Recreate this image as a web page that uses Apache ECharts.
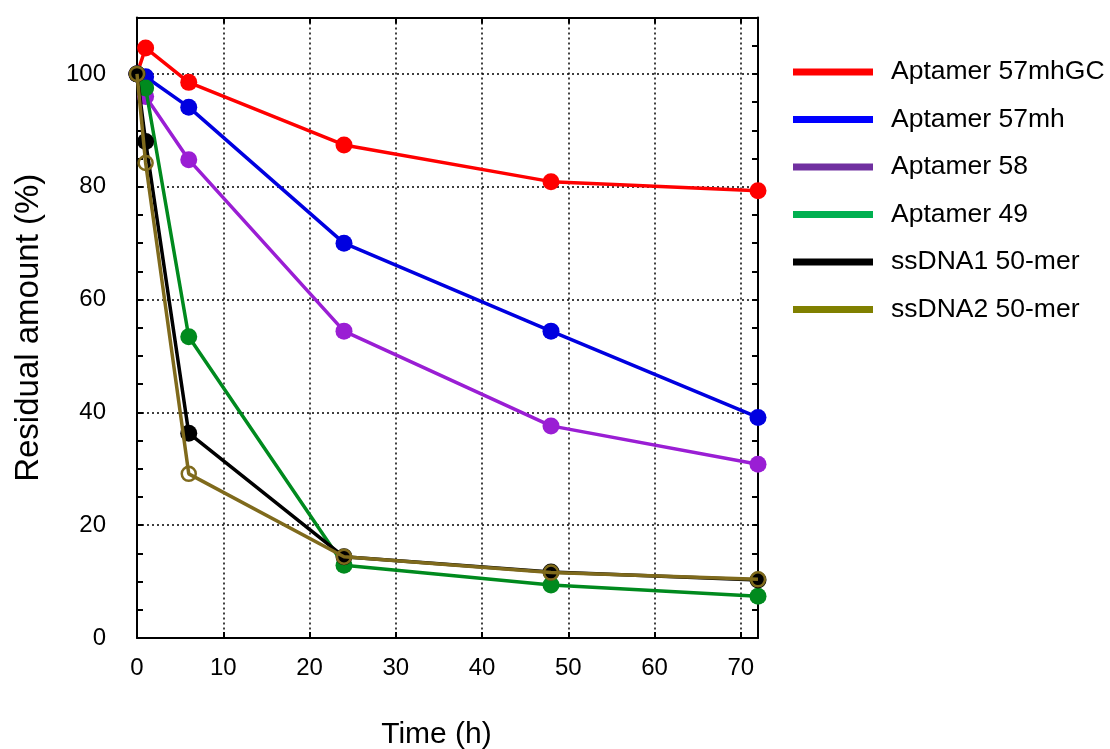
<!DOCTYPE html>
<html><head><meta charset="utf-8">
<script src="https://cdn.jsdelivr.net/npm/echarts@6/dist/echarts.min.js"></script>
<style>html,body{margin:0;padding:0;background:#fff}#c{width:1110px;height:749px}</style>
</head><body><div id="c"></div>
<script>
const times = [0, 1, 6, 24, 48, 72];
const seriesNames = ['Aptamer 57mhGC', 'Aptamer 57mh', 'Aptamer 58', 'Aptamer 49', 'ssDNA1 50-mer', 'ssDNA2 50-mer'];
const apt57mhGC = [100, 104.6, 98.5, 87.4, 80.9, 79.3];
const apt57mh = [100, 99.5, 94.1, 70.0, 54.4, 39.1];
const apt58 = [100, 96.0, 84.8, 54.4, 37.6, 30.8];
const apt49 = [100, 97.5, 53.4, 12.9, 9.4, 7.4];
const ssDNA1 = [100, 88.0, 36.3, 14.4, 11.7, 10.3];
const ssDNA2 = [100, 84.2, 29.1, 14.4, 11.6, 10.4];
const yTicks = [0, 20, 40, 60, 80, 100];
const xTicks = [0, 10, 20, 30, 40, 50, 60, 70];

const lineColors = ['#FF0000', '#0000E0', '#9A1ED4', '#008A1E', '#000000', '#7F6A1C'];
const legendColors = ['#FF0000', '#0000FF', '#7030A0', '#00B050', '#000000', '#808000'];
const values = [apt57mhGC, apt57mh, apt58, apt49, ssDNA1, ssDNA2];
const FONT = 'Liberation Sans';

const series = values.map((v, i) => {
  const hollow = i === 5;
  return {
    name: seriesNames[i],
    type: 'line',
    data: v.map((y, k) => [times[k], y]),
    xAxisIndex: 0, yAxisIndex: 0,
    symbol: 'circle',
    symbolSize: hollow ? 14 : 17,
    showSymbol: true,
    lineStyle: { color: lineColors[i], width: 3.5 },
    itemStyle: hollow ? { color: 'rgba(0,0,0,0)', borderColor: lineColors[i], borderWidth: 2.5 }
                      : { color: lineColors[i], borderWidth: 0 },
    emphasis: { disabled: true },
    z: 2 + i
  };
});

function axisCommon() {
  return {
    axisLine: { show: true, onZero: false, lineStyle: { color: '#000', width: 2 } },
    axisTick: { show: true, inside: true, length: 6, lineStyle: { color: '#000', width: 2 } }
  };
}

const option = {
  animation: false,
  backgroundColor: '#fff',
  grid: { left: 137, right: 352, top: 17.5, bottom: 111, containLabel: false, outerBoundsMode: 'none' },
  legend: {
    orient: 'vertical', left: 788, top: 52,
    itemWidth: 80, itemHeight: 7, itemGap: 17.5,
    textStyle: { fontFamily: FONT, fontSize: 26.5, color: '#000', lineHeight: 30, padding: [0, 0, 0, 13] },
    data: seriesNames.map((n, i) => ({ name: n, icon: 'rect', itemStyle: { color: legendColors[i], borderWidth: 0 } })),
    selectedMode: false
  },
  xAxis: [
    Object.assign(axisCommon(), {
      type: 'value', min: 0, max: 72, interval: 10, position: 'bottom',
      name: 'Time (h)', nameLocation: 'middle', nameGap: 82,
      nameTextStyle: { fontFamily: FONT, fontSize: 30, color: '#000', padding: [0, 22, 0, 0] },
      axisLabel: { fontFamily: FONT, fontSize: 24, color: '#000', margin: 18, showMaxLabel: false,
        formatter: v => xTicks.includes(v) ? String(v) : '' },
      splitLine: { show: true, lineStyle: { color: '#000', type: [2, 3], width: 1.5 } }
    }),
    Object.assign(axisCommon(), {
      type: 'value', min: 0, max: 72, interval: 10, position: 'top',
      axisLabel: { show: false }, splitLine: { show: false }
    })
  ],
  yAxis: [
    Object.assign(axisCommon(), {
      type: 'value', min: 0, max: 110, interval: 20, position: 'left',
      name: 'Residual amount (%)', nameLocation: 'middle', nameGap: 92, nameRotate: 90,
      nameTextStyle: { fontFamily: FONT, fontSize: 33, color: '#000' },
      axisLabel: { fontFamily: FONT, fontSize: 24, color: '#000', margin: 31, showMaxLabel: false,
        formatter: v => yTicks.includes(v) ? String(v) : '' },
      minorTick: { show: true, splitNumber: 4, length: 6, lineStyle: { color: '#000', width: 2 } },
      splitLine: { show: true, lineStyle: { color: '#000', type: [2, 3], width: 1.5 } }
    }),
    Object.assign(axisCommon(), {
      type: 'value', min: 0, max: 110, interval: 20, position: 'right',
      axisLabel: { show: false }, splitLine: { show: false },
      minorTick: { show: true, splitNumber: 4, length: 6, lineStyle: { color: '#000', width: 2 } }
    })
  ],
  series: series
};
echarts.init(document.getElementById('c')).setOption(option);
</script></body></html>
